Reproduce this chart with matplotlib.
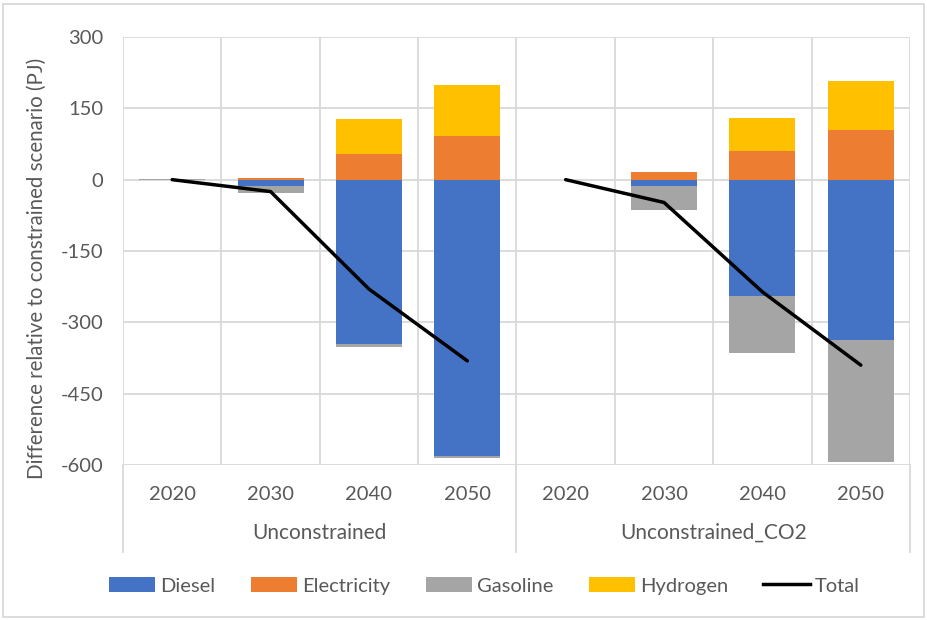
import matplotlib
matplotlib.use("Agg")
from matplotlib import pyplot as plt
from matplotlib.lines import Line2D
from matplotlib.patches import Rectangle
import numpy as np

plt.rcParams['font.family'] = ['Lato', 'DejaVu Sans']
plt.rcParams['axes.unicode_minus'] = False

years = ['2020', '2030', '2040', '2050']
groups = ['Unconstrained', 'Unconstrained_CO2']

# values per category: Unconstrained 2020..2050, then Unconstrained_CO2 2020..2050 (PJ)
diesel = [0, -13, -345, -582, 0, -13, -245, -337]
electricity = [0, 4, 54, 92, 0, 16, 60, 104]
gasoline = [2, -15, -7, -3, 0, -50, -120, -256]
hydrogen = [0, 0, 74, 107, 0, 0, 70, 103]
total = [0, -25, -230, -381, 0, -48, -236, -390]

series = [('Diesel', diesel, '#4472C4'),
          ('Electricity', electricity, '#ED7D31'),
          ('Gasoline', gasoline, '#A5A5A5'),
          ('Hydrogen', hydrogen, '#FFC000')]

txt = '#595959'
grid_c = '#D9D9D9'

fig = plt.figure(figsize=(9.28, 6.2), dpi=100)
ax = fig.add_axes([123 / 928, 1 - 465 / 620, 787 / 928, 428 / 620])

x = np.arange(len(total))
pos_base = np.zeros(len(x))
neg_base = np.zeros(len(x))
for name, vals, col in series:
    v = np.array(vals, dtype=float)
    bottom = np.where(v >= 0, pos_base, neg_base)
    ax.bar(x, v, 0.67, bottom=bottom, color=col, label=name, zorder=3)
    pos_base += np.where(v >= 0, v, 0)
    neg_base += np.where(v < 0, v, 0)

# Excel breaks the line between the two groups
ax.plot(x[:4], total[:4], color='black', lw=2.5, zorder=4, solid_capstyle='round')
ax.plot(x[4:], total[4:], color='black', lw=2.5, zorder=4, solid_capstyle='round')

ax.set_xlim(-0.5, 7.5)
ax.set_ylim(-600, 300)
ax.set_yticks(range(-600, 301, 150))
ax.set_xticks(x)
ax.set_xticklabels(years * 2)
ax.tick_params(axis='both', length=0, colors=txt, labelsize=14.5)
ax.tick_params(axis='x', pad=15)
ax.tick_params(axis='y', pad=14)

for xv in np.arange(-0.5, 8, 1):
    ax.axvline(xv, color=grid_c, lw=1.3, zorder=1)
for yv in range(-600, 301, 150):
    ax.axhline(yv, color=grid_c, lw=1.3, zorder=1)
for s in ax.spines.values():
    s.set_visible(False)

# group labels and separators below the axis
for i, g in enumerate(groups):
    ax.text(0.25 + 0.5 * i, -0.159, g, transform=ax.transAxes, ha='center', va='center',
            color=txt, fontsize=15)
for xa in [0, 0.5, 1]:
    ax.add_line(Line2D([xa, xa], [0, -0.203], transform=ax.transAxes, color=grid_c,
                       lw=1.3, clip_on=False))

ax.set_ylabel('Difference relative to constrained scenario (PJ)', color=txt, fontsize=14.8)
ax.yaxis.set_label_coords(-0.097, 0.46)

handles, labels = ax.get_legend_handles_labels()
handles.append(Line2D([0], [0], color='black', lw=2.5))
labels.append('Total')
fig.legend(handles, labels, loc='center', bbox_to_anchor=(0.522, 0.055), ncol=5,
           frameon=False, fontsize=14.5, labelcolor=txt, handlelength=2.3, handleheight=0.75,
           columnspacing=1.75, handletextpad=0.25)

fig.patches.append(Rectangle((3 / 928, 3 / 620), 921 / 928, 613 / 620, transform=fig.transFigure,
                             fill=False, edgecolor=grid_c, lw=1.3))

fig.savefig('out.png', dpi=100)
